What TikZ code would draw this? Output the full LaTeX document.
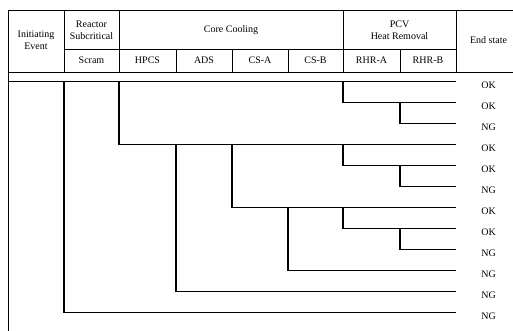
\documentclass[tikz,border=0pt]{standalone}
\usepackage{fontspec}
\setmainfont{Liberation Serif}
\begin{document}
\begin{tikzpicture}[x=0.75pt,y=-0.75pt,
  tbl/.style={line width=0.6pt},
  tree/.style={line width=0.9pt},
  hdr/.style={font=\fontsize{7.5}{9}\selectfont, align=center, inner sep=0pt},
  es/.style={font=\fontsize{7.5}{9}\selectfont, inner sep=0pt}]
\useasboundingbox (0,0) rectangle (513,331);
% table frame
\draw[tbl] (540,10) -- (8,10) -- (8,345);
\draw[tbl] (8,72) -- (540,72);
\draw[tbl] (64,49) -- (456,49);
\foreach \x in {64,119,343,456} \draw[tbl] (\x,10) -- (\x,72);
\foreach \x in {176,232,288,400} \draw[tbl] (\x,49) -- (\x,72);
% header texts
\node[hdr] (ie) at (36,40) {Initiating\\Event};
\node[hdr] (rs) at (91.5,30) {Reactor\\Subcritical};
\node[hdr] (cc) at (231,30) {Core Cooling};
\node[hdr] (pcv) at (399.5,30) {PCV\\Heat Removal};
\node[hdr] (es) at (488.5,40) {End state};
\node[hdr] (scram) at (91.5,60.5) {Scram};
\node[hdr] (hpcs) at (147.5,60.5) {HPCS};
\node[hdr] (ads) at (204,60.5) {ADS};
\node[hdr] (csa) at (260,60.5) {CS-A};
\node[hdr] (csb) at (315.5,60.5) {CS-B};
\node[hdr] (rha) at (371.5,60.5) {RHR-A};
\node[hdr] (rhb) at (428,60.5) {RHR-B};
% end points and labels
\foreach \i/\lab in {1/OK,2/OK,3/NG,4/OK,5/OK,6/NG,7/OK,8/OK,9/NG,10/NG,11/NG,12/NG}{
  \coordinate (e\i) at (456,{81.7+21*(\i-1)});
  \node[es] (l\i) at (488.5,{84.9+21*(\i-1)}) {\lab};
}
% branch points
\coordinate (s) at (8,81.7);
\coordinate (pScram) at (64,81.7);
\coordinate (pHPCS) at (119,81.7);
\coordinate (pRA1) at (343,81.7);
\coordinate (pRB1) at (400,102.7);
\coordinate (pADS) at (176,144.7);
\coordinate (pCSA) at (232,144.7);
\coordinate (pRA4) at (343,144.7);
\coordinate (pRB4) at (400,165.7);
\coordinate (pCSB) at (288,207.7);
\coordinate (pRA7) at (343,207.7);
\coordinate (pRB7) at (400,228.7);
% tree
\draw[tree] (s) -- (e1);
\draw[tree] (pScram) |- (e12);
\draw[tree] (pHPCS) |- (e4);
\draw[tree] (pRA1) |- (e2);
\draw[tree] (pRB1) |- (e3);
\draw[tree] (pADS) |- (e11);
\draw[tree] (pCSA) |- (e7);
\draw[tree] (pRA4) |- (e5);
\draw[tree] (pRB4) |- (e6);
\draw[tree] (pCSB) |- (e10);
\draw[tree] (pRA7) |- (e8);
\draw[tree] (pRB7) |- (e9);
\end{tikzpicture}
\end{document}
